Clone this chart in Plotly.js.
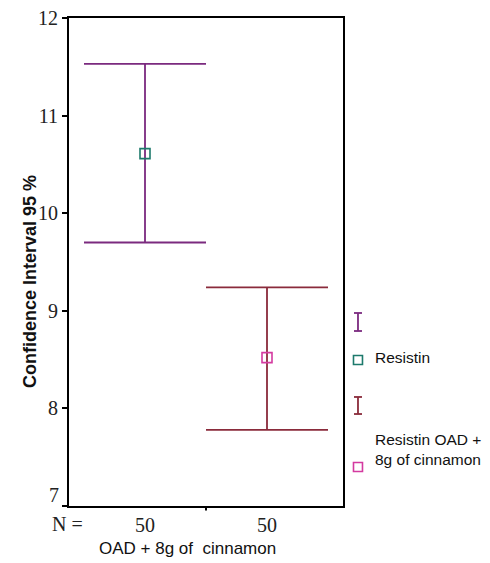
<!DOCTYPE html>
<html>
<head>
<meta charset="utf-8">
<script src="https://cdn.plot.ly/plotly-3.0.1.min.js"></script>
<style>html,body{margin:0;padding:0;background:#fff;}#chart{width:490px;height:563px;}</style>
</head>
<body>
<div id="chart"></div>
<script>
// ---- data ----
const categories = ['Resistin', 'Resistin OAD + 8g of cinnamon'];
const means = [10.61, 8.52];
const upper = [11.53, 9.24];
const lower = [9.70, 7.78];
const nCounts = [50, 50];
const yTicks = [7, 8, 9, 10, 11, 12];
const xTitle = 'OAD + 8g of\u00a0 cinnamon';
const yTitle = 'Confidence Interval 95 %';
const legendLabels = ['Resistin', 'Resistin OAD +<br>8g of cinnamon'];

// ---- styles ----
const errColors = ['#7b2a7f', '#8a2b3b'];
const markerColors = ['#1d7a6c', '#d43aa0'];
const serif = 'Liberation Serif, Times New Roman, serif';
const sans = 'Liberation Sans, Arial, sans-serif';

const xs = categories.map((c, i) => i);
const traces = categories.map((c, i) => ({
  type: 'scatter', mode: 'markers', name: c,
  x: [xs[i]], y: [means[i]],
  marker: {symbol: 'square-open', size: 10, color: markerColors[i], line: {width: 1.6, color: markerColors[i]}},
  error_y: {type: 'data', symmetric: false,
    array: [upper[i] - means[i]], arrayminus: [means[i] - lower[i]],
    color: errColors[i], thickness: 1.8, width: 61},
  showlegend: false, hoverinfo: 'skip'
}));

// legend drawn in paper coordinates
const L = {x: 1.0547, hw: 0.0146, sq: 0.0164};
const legendRows = [
  {kind: 'bar', y0: 0.3586, y1: 0.3955, color: errColors[0]},
  {kind: 'sq', yc: 0.2992, color: markerColors[0]},
  {kind: 'bar', y0: 0.1885, y1: 0.2234, color: errColors[1]},
  {kind: 'sq', yc: 0.0799, color: markerColors[1]}
];
const shapes = [];
legendRows.forEach(r => {
  if (r.kind === 'bar') {
    const ln = {color: r.color, width: 1.8};
    shapes.push({type: 'line', xref: 'paper', yref: 'paper', x0: L.x, x1: L.x, y0: r.y0, y1: r.y1, line: ln});
    shapes.push({type: 'line', xref: 'paper', yref: 'paper', x0: L.x - L.hw, x1: L.x + L.hw, y0: r.y0, y1: r.y0, line: ln});
    shapes.push({type: 'line', xref: 'paper', yref: 'paper', x0: L.x - L.hw, x1: L.x + L.hw, y0: r.y1, y1: r.y1, line: ln});
  } else {
    shapes.push({type: 'rect', xref: 'paper', yref: 'paper', x0: L.x - L.sq, x1: L.x + L.sq,
      y0: r.yc - 0.0092, y1: r.yc + 0.0092, line: {color: r.color, width: 1.6}, fillcolor: 'rgba(0,0,0,0)'});
  }
});
// small tick mark between groups on x axis
shapes.push({type: 'line', xref: 'x', yref: 'paper', x0: 0.5, x1: 0.5, y0: 0, y1: -0.009, line: {color: '#000', width: 2}});

const tf = {family: serif, size: 20, color: '#222'};
const lf = {family: sans, size: 15.5, color: '#111'};
const annotations = [
  {xref: 'paper', yref: 'paper', x: 1.1095, y: 0.305, xanchor: 'left', yanchor: 'middle', showarrow: false,
   text: legendLabels[0], font: lf},
  {xref: 'paper', yref: 'paper', x: 1.1095, y: 0.1158, xanchor: 'left', yanchor: 'middle', showarrow: false, align: 'left',
   text: legendLabels[1], font: lf},
  // lowest y tick label sits raised above the x axis, as in the reference
  {xref: 'paper', yref: 'y', x: -0.029, y: yTicks[0] + 0.11, xanchor: 'right', yanchor: 'middle', showarrow: false,
   text: String(yTicks[0]), font: tf},
  {xref: 'paper', yref: 'paper', x: -0.007, y: -0.037, xanchor: 'center', yanchor: 'middle', showarrow: false,
   text: 'N =', font: tf},
  {xref: 'paper', yref: 'paper', x: 0.434, y: -0.088, xanchor: 'center', yanchor: 'middle', showarrow: false,
   text: xTitle, font: {family: sans, size: 17, color: '#111'}},
  {xref: 'paper', yref: 'paper', x: -0.1423, y: 0.459, xanchor: 'center', yanchor: 'middle', showarrow: false,
   textangle: -90, text: '<b>' + yTitle + '</b>', font: {family: sans, size: 18, color: '#111'}}
];

const layout = {
  width: 490, height: 563,
  margin: {l: 69, r: 147, t: 18, b: 57},
  paper_bgcolor: '#fff', plot_bgcolor: '#fff',
  showlegend: false,
  xaxis: {range: [-0.623, 1.623], tickvals: xs, ticktext: nCounts.map(String), ticks: '',
    showgrid: false, zeroline: false, showline: true, mirror: true, linecolor: '#000', linewidth: 2,
    tickfont: tf},
  yaxis: {range: [7, 12], tickvals: yTicks, ticktext: yTicks.map((v, i) => i === 0 ? '' : String(v)),
    ticks: 'outside', ticklen: 5, tickwidth: 2, tickcolor: '#000',
    showgrid: false, zeroline: false, showline: true, mirror: true, linecolor: '#000', linewidth: 2,
    tickfont: tf},
  shapes: shapes, annotations: annotations
};

Plotly.newPlot('chart', traces, layout, {displayModeBar: false, staticPlot: true});
</script>
</body>
</html>
